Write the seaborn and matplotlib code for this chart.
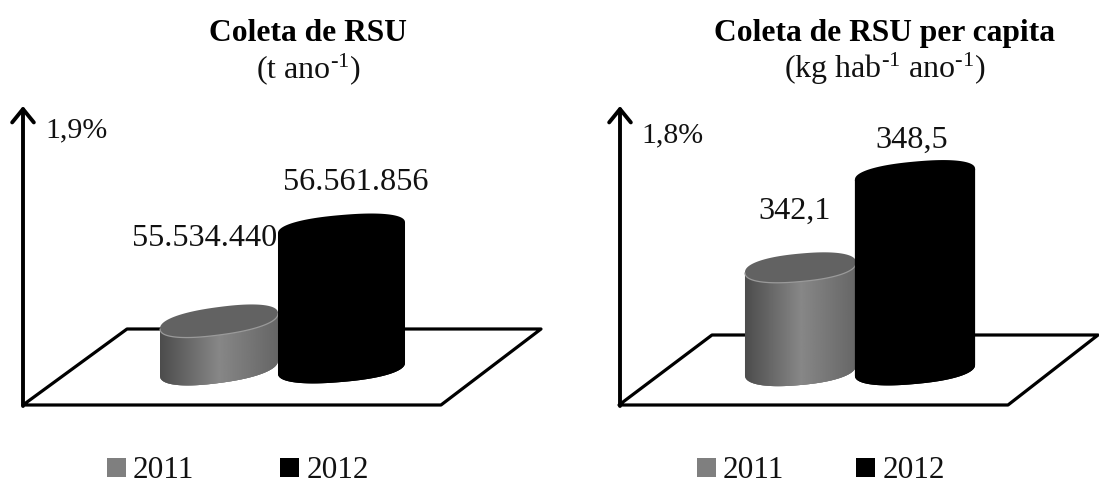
import numpy as np
import pandas as pd
import matplotlib
matplotlib.use("Agg")
import matplotlib.pyplot as plt
import seaborn as sns
from matplotlib.patches import Polygon, Patch, Rectangle

# Data
years = ["2011", "2012"]
coleta_total = [55534440, 56561856]
coleta_per_capita = [342.1, 348.5]
labels_total = ["55.534.440", "56.561.856"]
labels_per_capita = ["342,1", "348,5"]
titles = ["Coleta de RSU", "Coleta de RSU per capita"]
units = [r"(t ano$^{\text{-}1}$)", r"(kg hab$^{\text{-}1}$ ano$^{\text{-}1}$)"]
growth = ["1,9%", "1,8%"]
colors = {"2011": "#7f7f7f", "2012": "#000000"}

W, H = 1099, 484
sns.set_theme(style="white")
plt.rcParams["font.family"] = ["Liberation Serif", "DejaVu Serif"]
plt.rcParams["mathtext.fontset"] = "custom"
plt.rcParams["mathtext.rm"] = "Liberation Serif"
plt.rcParams["mathtext.default"] = "regular"

fig = plt.figure(figsize=(W / 100, H / 100), dpi=100, facecolor="white")


def fx(x, y):
    """Pixel position (origin top-left) to figure fraction."""
    return x / W, 1 - y / H


def ring(t, half_w, half_h, slope, exponent=2.3):
    """Tilted, slightly squared ellipse: horizontal and vertical offsets in pixels."""
    c, s = np.cos(t), np.sin(t)
    ox = half_w * np.sign(c) * np.abs(c) ** (2 / exponent)
    oy = half_h * np.sign(s) * np.abs(s) ** (2 / exponent)
    return ox, oy + slope * ox


def draw_panel(values, value_labels, title, unit, pct, layout):
    x0, x1 = layout["box"]
    top, bottom = 90, 425
    ax = fig.add_axes([x0 / W, 1 - bottom / H, (x1 - x0) / W, (bottom - top) / H])
    df = pd.DataFrame({"ano": years, "valor": values})
    sns.barplot(data=df, x="ano", y="valor", hue="ano", palette=colors,
                width=1.0, legend=False, ax=ax, saturation=1)
    bars = sorted([p for p in ax.patches if isinstance(p, Rectangle) and p.get_height() > 0],
                  key=lambda p: p.get_x())

    # Truncated value scale, as the chart only shows the growth between years
    u = layout["unit"]
    sy = layout["px_per_value"]
    base = layout["axis_floor"]
    xlim = ((x0 - layout["cx0"]) / u, (x1 - layout["cx0"]) / u)
    ylim = (base - (bottom - layout["base_px"]) / sy,
            base + (layout["base_px"] - top) / sy)
    ax.set_xlim(*xlim)
    ax.set_ylim(*ylim)
    ax.axis("off")

    # Floor plane and the vertical arrow
    ax.add_patch(Polygon([fx(*p) for p in layout["floor"]], closed=True,
                         facecolor="white", edgecolor="black", linewidth=2.3,
                         joinstyle="round", transform=fig.transFigure,
                         clip_on=False, zorder=1))
    ax.annotate("", xy=fx(layout["arrow_x"], 106), xytext=fx(layout["arrow_x"], 406),
                xycoords="figure fraction", textcoords="figure fraction",
                arrowprops=dict(arrowstyle="->,head_length=0.8,head_width=0.65",
                                lw=2.8, color="black", shrinkA=0, shrinkB=0),
                zorder=6)

    # Turn each bar into a tilted cylinder
    t = np.linspace(0, 2 * np.pi, 240)
    for i, (bar, value) in enumerate(zip(bars, values)):
        cx = bar.get_x() + bar.get_width() / 2
        w = layout["widths"][i]
        bar.set_x(cx - w / 2)
        bar.set_width(w)
        a_px = w * u / 2
        b_px, slope = layout["b"][i], layout["slope"][i]
        z = 3 + i * 2

        low = t[t >= np.pi]
        lx, ly = ring(low, a_px, b_px + 1, slope)
        right_top = (cx + w / 2, value + slope * a_px / sy)
        left_top = (cx - w / 2, value - slope * a_px / sy)
        body_pts = np.vstack([[left_top],
                              np.column_stack([cx + lx / u, base + ly / sy]),
                              [right_top]])
        body = Polygon(body_pts, closed=True, facecolor=colors[years[i]],
                       edgecolor="none", zorder=z)
        ax.add_patch(body)

        bar.set_zorder(z)
        bar.set_edgecolor("none")
        bar.set_clip_path(body)

        ox, oy = ring(t, a_px, b_px, slope)
        if years[i] == "2011":
            # Shaded side of the grey cylinder
            shade = np.interp(np.linspace(0, 1, 256), [0, 0.5, 1], [0.30, 0.53, 0.40])
            im = ax.imshow(shade[None, :], cmap="gray", vmin=0, vmax=1, aspect="auto",
                           extent=(cx - w / 2, cx + w / 2, base - 40 / sy, value + 20 / sy),
                           zorder=z + 0.2, interpolation="bilinear")
            im.set_clip_path(body)
            ax.set_xlim(*xlim)
            ax.set_ylim(*ylim)
            cap_face = "#626262"
        else:
            cap_face = "#000000"
        ax.add_patch(Polygon(np.column_stack([cx + ox / u, value + oy / sy]), closed=True,
                             facecolor=cap_face, edgecolor="none", zorder=z + 0.5))
        if years[i] == "2011":
            # Light rim under the lid
            rx, ry = ring(low, a_px, b_px, slope)
            ax.plot(cx + rx / u, value + ry / sy, color="#9a9a9a", lw=0.9, zorder=z + 0.6)

    # Value labels, growth label, headings
    for (px, py), txt in zip(layout["label_pos"], value_labels):
        fig.text(*fx(px, py), txt, ha="center", va="center", fontsize=23.2,
                 color="#111111", zorder=10)
    fig.text(*fx(*layout["pct_pos"]), pct, ha="center", va="center",
             fontsize=21.5, color="#111111")
    fig.text(*fx(layout["title_x"], 41), title, ha="center", va="baseline",
             fontsize=22.7, fontweight="bold", color="black")
    fig.text(*fx(layout["title_x"], 78), unit, ha="center", va="baseline",
             fontsize=23, color="#111111")

    # Legend below the floor
    handles = [Patch(facecolor=colors[y], edgecolor="none", label=y) for y in years]
    fig.legend(handles=handles, ncol=2, frameon=False, fontsize=22.5,
               loc="center left", bbox_to_anchor=fx(layout["legend_x"], 471),
               handlelength=0.6, handleheight=0.6, handletextpad=0.23,
               columnspacing=layout["col_gap"], borderpad=0, borderaxespad=0,
               labelcolor="#111111")


draw_panel(
    coleta_total, labels_total, titles[0], units[0], growth[0],
    dict(box=(0, 550), cx0=219, unit=122.5, px_per_value=93.0 / (56561856 - 55534440),
         axis_floor=55015200, base_px=368, widths=(0.963, 1.037), b=(14, 13), slope=(0.13, 0.085),
         floor=[(23, 405), (441, 405), (541, 329), (127, 329)], arrow_x=23,
         label_pos=[(204.5, 238), (356, 182)], pct_pos=(76, 130),
         title_x=308, legend_x=107, col_gap=2.75),
)
draw_panel(
    coleta_per_capita, labels_per_capita, titles[1], units[1], growth[1],
    dict(box=(550, 1099), cx0=800.5, unit=114.5, px_per_value=93.0 / 6.4,
         axis_floor=335.05, base_px=370, widths=(0.97, 1.05), b=(14, 13), slope=(0.09, 0.09),
         floor=[(619, 405), (1008, 405), (1098, 335), (712, 335)], arrow_x=620,
         label_pos=[(795, 211), (912, 140)], pct_pos=(672, 135),
         title_x=885, legend_x=697, col_gap=2.3),
)

fig.savefig("out.png", dpi=100, facecolor="white")
